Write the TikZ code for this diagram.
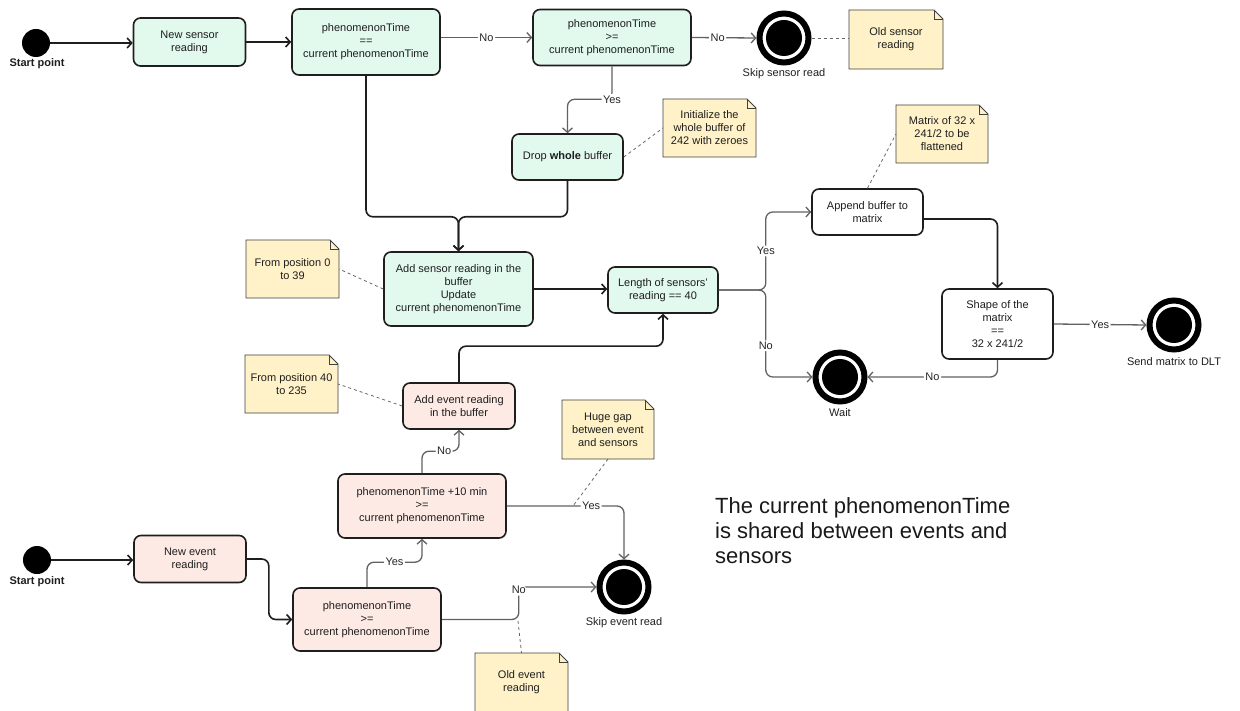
\documentclass[tikz,border=0pt]{standalone}
\usepackage{fontspec}
\setmainfont{Liberation Sans}
\usetikzlibrary{arrows.meta,calc}
\definecolor{sensorfill}{HTML}{E2F9EE}
\definecolor{eventfill}{HTML}{FDEAE5}
\definecolor{notefill}{HTML}{FFF2C9}
\definecolor{ink}{HTML}{1E1E1E}

% note with a folded top-right corner: name, x1, y1, x2, y2, text
\newcommand\drawnote[6]{%
  \path[notebody] (#2,#3) -- (#4-9,#3) -- (#4,#3+9) -- (#4,#5) -- (#2,#5) -- cycle;
  \draw[notefold] (#4-9,#3) -- (#4-9,#3+9) -- (#4,#3+9);
  \node[notetext, minimum width={(#4-#2)*1pt}, minimum height={(#5-#3)*1pt}]
    (#1) at ({(#2+#4)/2},{(#3+#5)/2}) {#6};}

\begin{document}
\begin{tikzpicture}[x=1pt,y=-1pt,
  every node/.style={font=\fontsize{11}{13}\selectfont, text=ink},
  box/.style={draw=ink, line width=1.6pt, rounded corners=7pt, align=center, inner sep=2pt},
  sensor/.style={box, fill=sensorfill},
  event/.style={box, fill=eventfill},
  plain/.style={box, fill=white},
  sz/.style 2 args={minimum width=#1pt, minimum height=#2pt},
  initial/.style={circle, fill=black, minimum size=28pt, inner sep=0pt},
  final/.style={circle, draw=black, line width=6pt, minimum size=49pt, inner sep=0pt,
    path picture={\fill[black] (path picture bounding box.center) circle (18pt);}},
  caption/.style={inner sep=1pt},
  boldcaption/.style={inner sep=1pt, font=\fontsize{11}{13}\selectfont\bfseries},
  flow/.style={draw=ink, line width=1.6pt, rounded corners=7pt, -{Straight Barb[length=4.5pt,width=10pt]}},
  cond/.style={draw=black!62, line width=1.3pt, rounded corners=7pt, -{Straight Barb[length=4.5pt,width=10pt]}},
  lbl/.style={fill=white, inner sep=1.5pt, text=black!85},
  link/.style={draw=black!60, dashed, line width=0.8pt},
  notebody/.style={fill=notefill, draw=black!75, line width=0.9pt},
  notefold/.style={draw=black!75, line width=0.9pt},
  notetext/.style={align=center, inner sep=0pt, outer sep=0pt},
]
\useasboundingbox (0,0) rectangle (1240,711);

% ---- sensor path ----
\node[initial] (s1) at (36,43) {};
\node[boldcaption] (s1t) at (37,64) {Start point};
\node[sensor, sz={112}{48}] (nsr) at (189.5,42) {New sensor\\reading};
\node[sensor, sz={148}{66}] (eq) at (366,42) {phenomenonTime\\==\\current phenomenonTime};
\node[sensor, sz={158}{56}] (ge1) at (612,37.5) {phenomenonTime\\>=\\current phenomenonTime};
\node[final] (skipS) at (784,38) {};
\node[caption] (skipSt) at (784,74) {Skip sensor read};
\drawnote{nOld}{849}{10}{943}{69}{Old sensor\\reading}
\node[sensor, sz={111}{46}] (drop) at (567.5,157) {Drop \textbf{whole} buffer};
\drawnote{nInit}{663}{99}{756}{157}{Initialize the\\whole buffer of\\242 with zeroes}
\drawnote{nMat}{896}{105}{988}{163}{Matrix of 32 x\\241/2 to be\\flattened}
\node[plain, sz={111}{46}] (app) at (867.5,212) {Append buffer to\\matrix};
\node[sensor, sz={149}{74}] (adds) at (458.5,289) {Add sensor reading in the\\buffer\\Update\\current phenomenonTime};
\drawnote{nPos1}{246}{240}{339}{298}{From position 0\\to 39}
\node[sensor, sz={110}{46}] (len) at (663,290) {Length of sensors'\\reading == 40};
\node[plain, sz={111}{70}] (shape) at (997.5,324) {Shape of the\\matrix\\==\\32 x 241/2};
\node[final] (send) at (1174,325) {};
\node[caption] (sendt) at (1174,362) {Send matrix to DLT};
\node[final] (wait) at (840,377) {};
\node[caption] (waitt) at (840,413) {Wait};

% ---- event path ----
\drawnote{nPos2}{245}{355}{338}{413}{From position 40\\to 235}
\node[event, sz={112}{46}] (adde) at (459,406) {Add event reading\\in the buffer};
\drawnote{nGap}{562}{400}{654}{459}{Huge gap\\between event\\and sensors}
\node[event, sz={168}{64}] (ge10) at (422,506) {phenomenonTime +10 min\\>=\\current phenomenonTime};
\node[initial] (s2) at (37,560) {};
\node[boldcaption] (s2t) at (37,582) {Start point};
\node[event, sz={112}{47}] (ner) at (190,559) {New event\\reading};
\node[event, sz={148}{63}] (ge2) at (367,619.5) {phenomenonTime\\>=\\current phenomenonTime};
\node[final] (skipE) at (624,587) {};
\node[caption] (skipEt) at (624,623) {Skip event read};
\drawnote{nOldE}{475}{653}{568}{712}{Old event\\reading}

\node[anchor=north west, inner sep=0pt, align=left, text=black!90,
      font=\fontsize{22}{25}\selectfont] (shared) at (715,497)
  {The current phenomenonTime\\is shared between events and\\sensors};

% ---- connectors: sensor path ----
\draw[flow] (s1.east) -- (s1.east -| nsr.west);
\draw[flow] (nsr) -- (eq);
\draw[cond] (eq.east |- ge1) -- node[lbl]{No} (ge1.west);
\draw[cond] (ge1.east) -- node[lbl,pos=0.4]{No} (skipS.west);
\draw[link] (skipS.east) -- (nOld.west |- skipS);
\draw[cond] (ge1.south) -- ++(0,33) node[lbl]{Yes} -| (drop.north);
\draw[link] (drop.east) -- (nInit.west);
\draw[flow] (eq.south) -- ++(0,141) -| (adds.north);
\draw[flow] (drop.south) -- ++(0,36) -| (adds.north);
\draw[flow] (adds.east) -- (adds.east -| len.west);
\draw[link] (adds.west) -- (nPos1.east);
\draw[cond] (len.east) -- ++(47,0) |- node[lbl,pos=0.25]{Yes} (app.west);
\draw[cond] (len.east) -- ++(47,0) |- node[lbl,pos=0.32]{No} (wait.west);
\draw[link] (app.north) -- (nMat.west);
\draw[flow] ([yshift=-7pt]app.east) -| (shape.north);
\draw[cond] (shape.east) -- node[lbl]{Yes} (send.west);
\draw[cond] (shape.south) |- node[lbl,pos=0.75]{No} (wait.east);

% ---- connectors: event path ----
\draw[flow] (s2.east) -- (s2.east -| ner.west);
\draw[flow] (ner.east) -- ++(22,0) |- (ge2.west);
\draw[cond] (ge2.north) -- ++(0,-25) -| node[lbl,pos=0.25]{Yes} (ge10.south);
\draw[cond] (ge10.north) -- ++(0,-22) -| node[lbl,pos=0.3]{No} (adde.south);
\draw[cond] (ge10.east) -| node[lbl,pos=0.36]{Yes} (skipE.north);
\draw[cond] (ge2.east) -- ++(77,0) |- node[lbl,pos=0.45]{No} (skipE.west);
\draw[flow] (adde.north) -- ++(0,-36) -| (len.south);
\draw[link] (adde.west) -- (nPos2.east);
\coordinate (gapEnd) at (573,506);
\draw[link] (nGap.south) -- (gapEnd);
\coordinate (oldEnd) at (518,621);
\draw[link] (oldEnd) -- (nOldE.north);
\end{tikzpicture}
\end{document}
